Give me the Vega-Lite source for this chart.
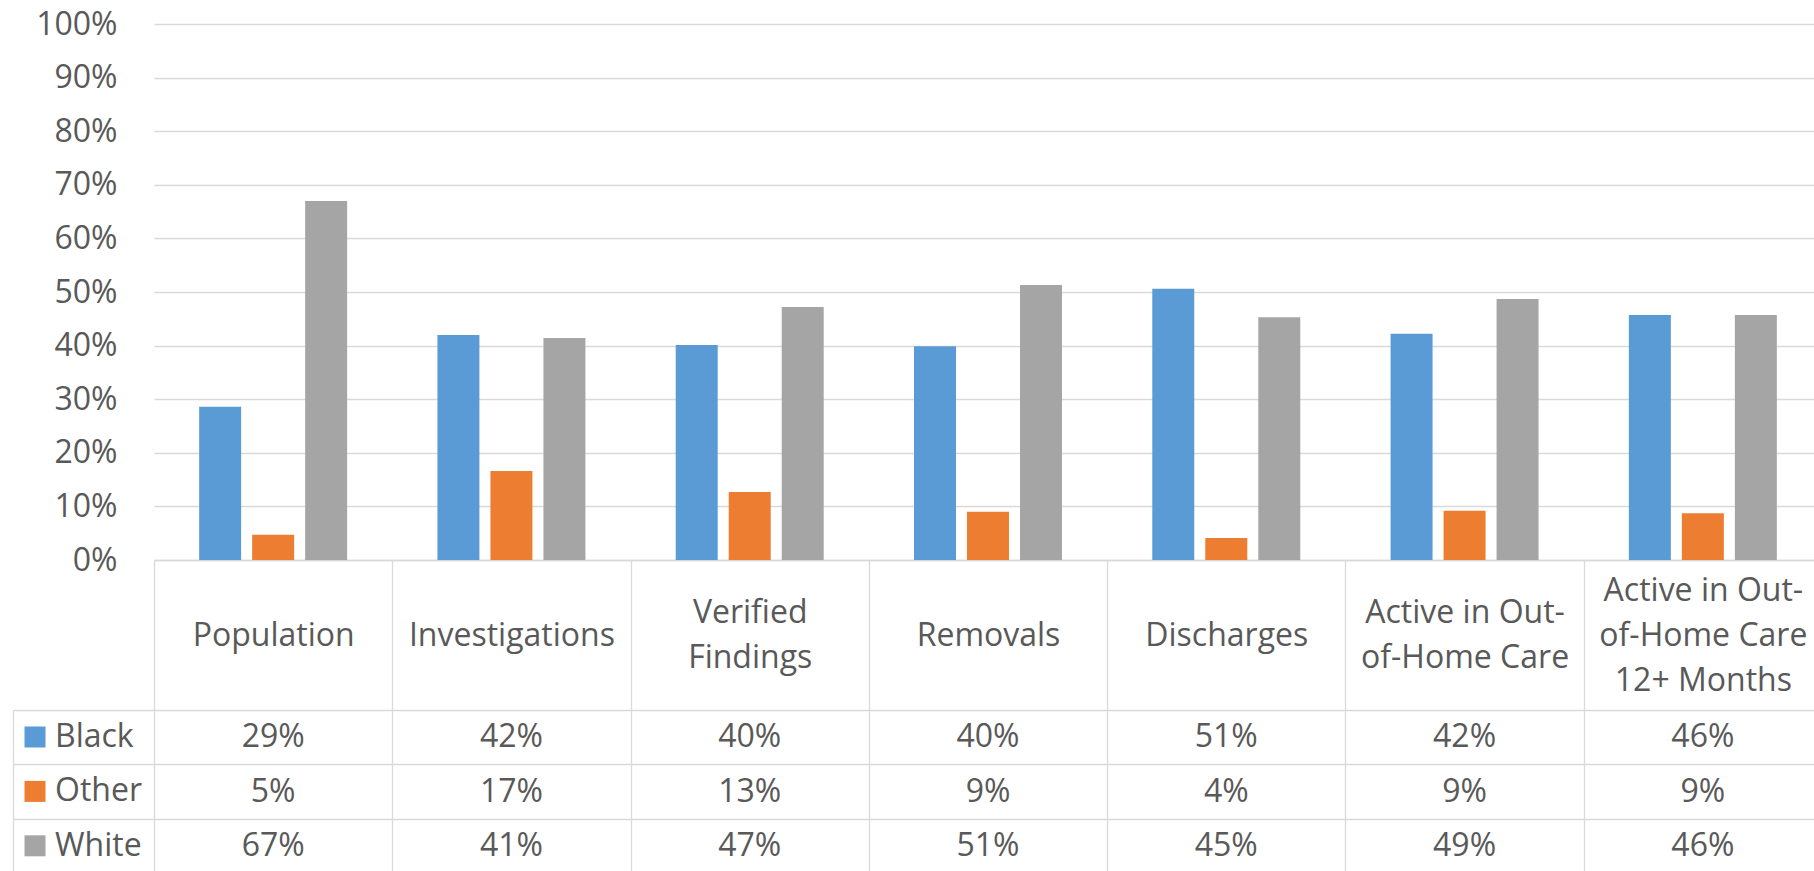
{
  "$schema": "https://vega.github.io/schema/vega-lite/v6.json",
  "padding": {"left": 12, "top": 8, "right": 0, "bottom": 0},
  "background": "white",
  "data": {"values": [
    {"category": "Population", "race": "Black", "value": 0.286},
    {"category": "Population", "race": "Other", "value": 0.047},
    {"category": "Population", "race": "White", "value": 0.670},
    {"category": "Investigations", "race": "Black", "value": 0.420},
    {"category": "Investigations", "race": "Other", "value": 0.166},
    {"category": "Investigations", "race": "White", "value": 0.414},
    {"category": "Verified Findings", "race": "Black", "value": 0.401},
    {"category": "Verified Findings", "race": "Other", "value": 0.127},
    {"category": "Verified Findings", "race": "White", "value": 0.472},
    {"category": "Removals", "race": "Black", "value": 0.399},
    {"category": "Removals", "race": "Other", "value": 0.090},
    {"category": "Removals", "race": "White", "value": 0.513},
    {"category": "Discharges", "race": "Black", "value": 0.506},
    {"category": "Discharges", "race": "Other", "value": 0.041},
    {"category": "Discharges", "race": "White", "value": 0.453},
    {"category": "Active in Out-of-Home Care", "race": "Black", "value": 0.422},
    {"category": "Active in Out-of-Home Care", "race": "Other", "value": 0.092},
    {"category": "Active in Out-of-Home Care", "race": "White", "value": 0.487},
    {"category": "Active in Out-of-Home Care 12+ Months", "race": "Black", "value": 0.457},
    {"category": "Active in Out-of-Home Care 12+ Months", "race": "Other", "value": 0.087},
    {"category": "Active in Out-of-Home Care 12+ Months", "race": "White", "value": 0.457}
  ]},
  "config": {
    "view": {"stroke": null},
    "font": "Open Sans",
    "axis": {
      "labelFont": "Open Sans",
      "labelFontSize": 32,
      "labelColor": "#595959",
      "gridColor": "#d9d9d9",
      "gridWidth": 1.3,
      "domainColor": "#d9d9d9",
      "domainWidth": 1.3,
      "tickColor": "#d9d9d9",
      "tickWidth": 1.3
    },
    "legend": {
      "orient": "none",
      "legendX": -135,
      "legendY": 697,
      "symbolType": "square",
      "symbolSize": 441,
      "symbolStrokeWidth": 0,
      "labelFont": "Open Sans",
      "labelFontSize": 32,
      "labelColor": "#595959",
      "labelOffset": 4,
      "rowPadding": 22.4,
      "padding": 0,
      "direction": "vertical"
    }
  },
  "spacing": 150,
  "bounds": "flush",
  "resolve": {"scale": {"x": "independent", "y": "independent", "color": "shared"}},
  "vconcat": [
    {
      "width": 1668,
      "height": 536,
      "mark": {"type": "bar"},
      "encoding": {
        "x": {
          "field": "category", "type": "nominal", "sort": null,
          "scale": {"paddingInner": 0, "paddingOuter": 0},
          "axis": {
            "title": null,
            "tickBand": "extent",
            "tickSize": 150,
            "labelPadding": {
              "condition": [
                {"test": "datum.value == 'Verified Findings' || datum.value == 'Active in Out-of-Home Care'", "value": -97.5},
                {"test": "datum.value == 'Active in Out-of-Home Care 12+ Months'", "value": -120}
              ],
              "value": -75
            },
            "labelBaseline": "middle",
            "labelLineHeight": 45,
            "labelLimit": 400,
            "labelAngle": 0,
            "labelOverlap": false,
            "labelExpr": "datum.value == 'Verified Findings' ? ['Verified', 'Findings'] : datum.value == 'Active in Out-of-Home Care' ? ['Active in Out-', 'of-Home Care'] : datum.value == 'Active in Out-of-Home Care 12+ Months' ? ['Active in Out-', 'of-Home Care', '12+ Months'] : datum.label"
          }
        },
        "xOffset": {
          "field": "race", "type": "nominal", "sort": ["Black", "Other", "White"],
          "scale": {"paddingInner": 0.208, "paddingOuter": 0.852}
        },
        "y": {
          "field": "value", "type": "quantitative",
          "scale": {"domain": [0, 1], "nice": false},
          "axis": {
            "title": null,
            "format": ".0%",
            "values": [0, 0.1, 0.2, 0.3, 0.4, 0.5, 0.6, 0.7, 0.8, 0.9, 1],
            "domain": false,
            "ticks": false,
            "labelPadding": 37,
            "grid": true
          }
        },
        "color": {
          "field": "race", "type": "nominal",
          "scale": {"domain": ["Black", "Other", "White"], "range": ["#5B9BD5", "#ED7D31", "#A5A5A5"]},
          "legend": {"title": null}
        }
      }
    },
    {
      "width": 1668,
      "height": 163,
      "mark": {"type": "text", "fontSize": 32, "color": "#595959", "font": "Open Sans", "baseline": "middle", "align": "center"},
      "encoding": {
        "x": {
          "field": "category", "type": "nominal", "sort": null,
          "scale": {"paddingInner": 0, "paddingOuter": 0},
          "axis": {"title": null, "labels": false, "ticks": false, "domain": false, "grid": true, "tickBand": "extent"}
        },
        "y": {
          "field": "race", "type": "nominal", "sort": ["Black", "Other", "White"],
          "scale": {"paddingInner": 0, "paddingOuter": 0},
          "axis": {"title": null, "labels": false, "offset": 141, "tickBand": "extent", "tickSize": -141, "grid": true, "domain": true}
        },
        "text": {"field": "value", "type": "quantitative", "format": ".0%"}
      }
    }
  ]
}
